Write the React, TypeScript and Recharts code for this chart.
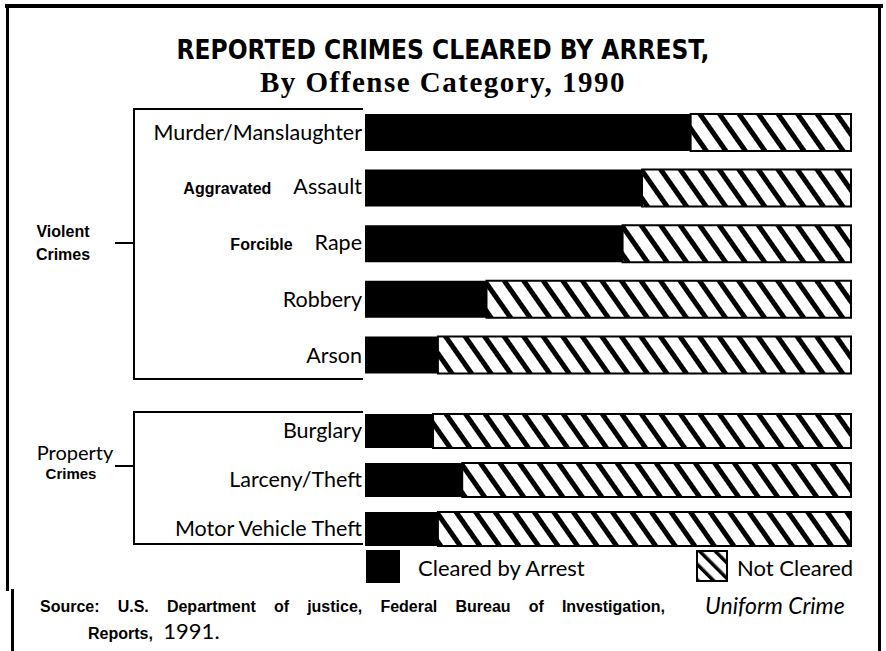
import React from 'react';
import { BarChart, Bar, XAxis, YAxis } from 'recharts';

const violentCategories = ['Murder/Manslaughter', 'Aggravated Assault', 'Forcible Rape', 'Robbery', 'Arson'];
const violentCleared = [67, 57, 53, 25, 15];
const propertyCategories = ['Burglary', 'Larceny/Theft', 'Motor Vehicle Theft'];
const propertyCleared = [14, 20, 15];
const smallPrefixes = ['Aggravated', 'Forcible'];

const gill = 'Lato, "Open Sans", sans-serif';
const arial = '"Liberation Sans", Arial, sans-serif';

const toRows = (cats: string[], vals: number[]) =>
  cats.map((name, i) => ({ name, cleared: vals[i], notCleared: 100 - vals[i] }));

const CategoryTick = (props: any) => {
  const { x, y, payload } = props;
  const words = String(payload.value).split(' ');
  const small = smallPrefixes.includes(words[0]);
  if (small) {
    return (
      <text x={x} y={y} dy="0.35em" textAnchor="end" fill="#000">
        <tspan fontFamily={arial} fontWeight="bold" fontSize={16}>{words[0]}</tspan>
        <tspan dx={22} fontFamily={gill} fontSize={21.5}>{words.slice(1).join(' ')}</tspan>
      </text>
    );
  }
  return (
    <text x={x} y={y} dy="0.35em" textAnchor="end" fill="#000" fontFamily={gill} fontSize={21.5}>
      {payload.value}
    </text>
  );
};

function HatchDefs({ id }: { id: string }) {
  return (
    <defs>
      <pattern id={id} patternUnits="userSpaceOnUse" width={16} height={16} patternTransform="rotate(-35)">
        <rect width={16} height={16} fill="#fff" />
        <rect x={0} y={0} width={5} height={16} fill="#000" />
      </pattern>
    </defs>
  );
}

function CrimeBars({ rows, height, top, bottom, barSize, patternId }: any) {
  return (
    <BarChart width={886} height={height} data={rows} layout="vertical"
      margin={{ top, bottom, left: 135, right: 35 }}>
      <HatchDefs id={patternId} />
      <XAxis type="number" domain={[0, 100]} hide />
      <YAxis type="category" dataKey="name" width={230} axisLine={false}
        tickLine={false} tickSize={0} tickMargin={3} tick={<CategoryTick />} interval={0} />
      <Bar dataKey="cleared" stackId="a" fill="#000" barSize={barSize} isAnimationActive={false} />
      <Bar dataKey="notCleared" stackId="a" fill={`url(#${patternId})`} stroke="#000"
        strokeWidth={2} barSize={barSize} isAnimationActive={false} />
    </BarChart>
  );
}

const abs = (s: React.CSSProperties): React.CSSProperties => ({ position: 'absolute', ...s });

export default function App() {
  const violent = toRows(violentCategories, violentCleared);
  const property = toRows(propertyCategories, propertyCleared);
  return (
    <div style={abs({ left: 0, top: 0, width: 886, height: 651, background: '#fff', overflow: 'hidden' })}>
      {/* page frame */}
      <div style={abs({ left: 5, top: 4, width: 878, height: 4, background: '#000' })} />
      <div style={abs({ left: 6, top: 4, width: 3, height: 587, background: '#000' })} />
      <div style={abs({ left: 11, top: 589, width: 3, height: 62, background: '#000' })} />
      <div style={abs({ left: 878, top: 4, width: 3, height: 647, background: '#000' })} />

      <div style={abs({ left: 0, top: 35, width: 886, textAlign: 'center', fontFamily: '"Liberation Sans Narrow", "DejaVu Sans Condensed", sans-serif', fontWeight: 'bold', fontSize: 26, color: '#000' })}>
        REPORTED CRIMES CLEARED BY ARREST,
      </div>
      <div style={abs({ left: 0, top: 66, width: 886, textAlign: 'center', fontFamily: '"Liberation Serif", serif', fontWeight: 'bold', fontSize: 29, letterSpacing: 1.5, color: '#000' })}>
        By Offense Category, 1990
      </div>

      {/* group brackets */}
      <div style={abs({ left: 133, top: 108, width: 228, height: 268, borderTop: '2px solid #000', borderLeft: '2px solid #000', borderBottom: '2px solid #000' })} />
      <div style={abs({ left: 115, top: 242, width: 18, height: 2, background: '#000' })} />
      <div style={abs({ left: 18, top: 220, width: 90, textAlign: 'center', fontFamily: arial, fontWeight: 'bold', fontSize: 16, lineHeight: '23px' })}>
        Violent<br />Crimes
      </div>
      <div style={abs({ left: 133, top: 411, width: 228, height: 130, borderTop: '2px solid #000', borderLeft: '2px solid #000', borderBottom: '2px solid #000' })} />
      <div style={abs({ left: 115, top: 465, width: 18, height: 2, background: '#000' })} />
      <div style={abs({ left: 30, top: 441, width: 90, textAlign: 'center', fontFamily: gill, fontSize: 20, lineHeight: '22px' })}>Property</div>
      <div style={abs({ left: 26, top: 465, width: 90, textAlign: 'center', fontFamily: arial, fontWeight: 'bold', fontSize: 15, lineHeight: '18px' })}>Crimes</div>

      <div style={abs({ left: 0, top: 95, width: 886, height: 300 })}>
        <CrimeBars rows={violent} height={300} top={10} bottom={12} barSize={37} patternId="hatchViolent" />
      </div>
      <div style={abs({ left: 0, top: 395, width: 886, height: 170 })}>
        <CrimeBars rows={property} height={170} top={11} bottom={12} barSize={34} patternId="hatchProperty" />
      </div>

      {/* legend */}
      <div style={abs({ left: 366, top: 550, width: 34, height: 33, background: '#000' })} />
      <div style={abs({ left: 418, top: 555, fontFamily: gill, fontSize: 22, lineHeight: '26px' })}>Cleared by Arrest</div>
      <svg style={abs({ left: 696, top: 550 })} width={32} height={32}>
        <defs>
          <pattern id="hatchLegend" patternUnits="userSpaceOnUse" width={11} height={11} patternTransform="rotate(-45)">
            <rect width={11} height={11} fill="#fff" />
            <rect x={0} y={0} width={3.5} height={11} fill="#000" />
          </pattern>
        </defs>
        <rect x={1} y={1} width={30} height={30} fill="url(#hatchLegend)" stroke="#000" strokeWidth={2} />
      </svg>
      <div style={abs({ left: 737, top: 555, fontFamily: gill, fontSize: 22, lineHeight: '26px' })}>Not Cleared</div>

      {/* source */}
      <div style={abs({ left: 40, top: 597, width: 625, fontFamily: arial, fontWeight: 'bold', fontSize: 16, lineHeight: '19px', textAlign: 'justify', textAlignLast: 'justify' })}>
        Source: U.S. Department of justice, Federal Bureau of Investigation,
      </div>
      <div style={abs({ left: 705, top: 592, fontFamily: gill, fontStyle: 'italic', fontSize: 23, lineHeight: '26px' })}>Uniform Crime</div>
      <div style={abs({ left: 88, top: 620, fontFamily: arial, fontWeight: 'bold', fontSize: 16, lineHeight: '22px' })}>
        Reports, <span style={{ fontFamily: gill, fontWeight: 'normal', fontSize: 22, marginLeft: 6 }}>1991.</span>
      </div>
    </div>
  );
}
